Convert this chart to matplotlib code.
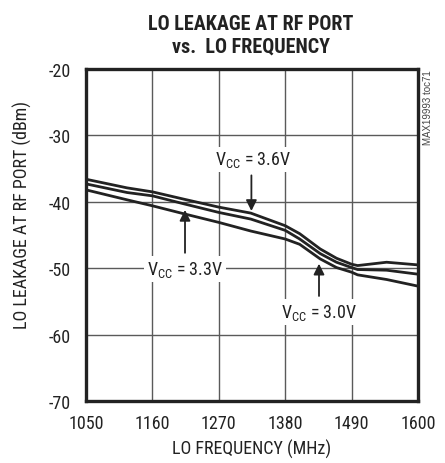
import matplotlib.pyplot as plt

plt.rcParams['font.family'] = ['Roboto Condensed', 'DejaVu Sans']
plt.rcParams['axes.unicode_minus'] = False
plt.rcParams['mathtext.fontset'] = 'custom'
plt.rcParams['mathtext.rm'] = 'Roboto Condensed'

freq = [1050, 1118, 1160, 1212, 1270, 1323, 1380, 1404, 1438, 1465, 1490, 1500, 1548, 1600]
leak_36 = [-36.6, -37.9, -38.5, -39.6, -40.8, -41.7, -43.6, -44.8, -47.1, -48.5, -49.4, -49.6, -49.1, -49.5]
leak_33 = [-37.3, -38.6, -39.1, -40.3, -41.6, -42.6, -44.3, -45.6, -47.8, -49.1, -49.9, -50.2, -50.3, -50.9]
leak_30 = [-38.2, -39.7, -40.6, -41.8, -43.1, -44.4, -45.6, -46.4, -48.6, -49.9, -50.6, -51.0, -51.7, -52.7]

x_ticks = [1050, 1160, 1270, 1380, 1490, 1600]
y_ticks = [-70, -60, -50, -40, -30, -20]

# label text, label position, arrow tip
labels = ['V$_{\\mathregular{CC}}$ = 3.6V', 'V$_{\\mathregular{CC}}$ = 3.3V', 'V$_{\\mathregular{CC}}$ = 3.0V']
label_xy = [(1327, -33.6), (1214, -50.1), (1436, -56.6)]
tip_xy = [(1324, -41.8), (1214, -40.8), (1436, -48.9)]

fig = plt.figure(figsize=(4.45, 4.64), dpi=100)
ax = fig.add_axes([0.1933, 0.1336, 0.746, 0.7155])

for y in (leak_36, leak_33, leak_30):
    ax.plot(freq, y, color='#222222', lw=2.0, solid_capstyle='round')

ax.set_xlim(1050, 1600)
ax.set_ylim(-70, -20)
ax.set_xticks(x_ticks)
ax.set_yticks(y_ticks)
ax.tick_params(length=0, labelsize=13, colors='#222222')
ax.tick_params(axis='x', pad=9)
ax.tick_params(axis='y', pad=11)
ax.grid(True, color='#5a5a5a', lw=1)
for s in ax.spines.values():
    s.set_linewidth(2.4)
    s.set_color('#222222')

ax.set_xlabel('LO FREQUENCY (MHz)', fontsize=13, color='#222222', labelpad=5)
ax.set_ylabel('LO LEAKAGE AT RF PORT (dBm)', fontsize=13, color='#222222')
ax.yaxis.set_label_coords(-0.163, 0.563)

for txt, lxy, txy in zip(labels, label_xy, tip_xy):
    t = ax.text(lxy[0], lxy[1], txt, ha='center', va='center', fontsize=13, color='#222222',
                bbox=dict(facecolor='white', edgecolor='none', pad=2))
    start_y = lxy[1] + (-2.0 if txy[1] < lxy[1] else 2.0)
    ax.annotate('', xy=txy, xytext=(txy[0], start_y),
                arrowprops=dict(arrowstyle='-|>', color='#222222', lw=1.3, mutation_scale=16))

fig.text(0.563, 0.968, 'LO LEAKAGE AT RF PORT\nvs.  LO FREQUENCY', ha='center', va='top',
         fontsize=14.5, fontweight='bold', color='#222222', linespacing=1.25)
fig.text(0.962, 0.849, 'MAX19993 toc71', rotation=90, ha='center', va='top', fontsize=7,
         color='#444444', family=['Liberation Sans', 'DejaVu Sans'])

fig.savefig('out.png', dpi=100)
